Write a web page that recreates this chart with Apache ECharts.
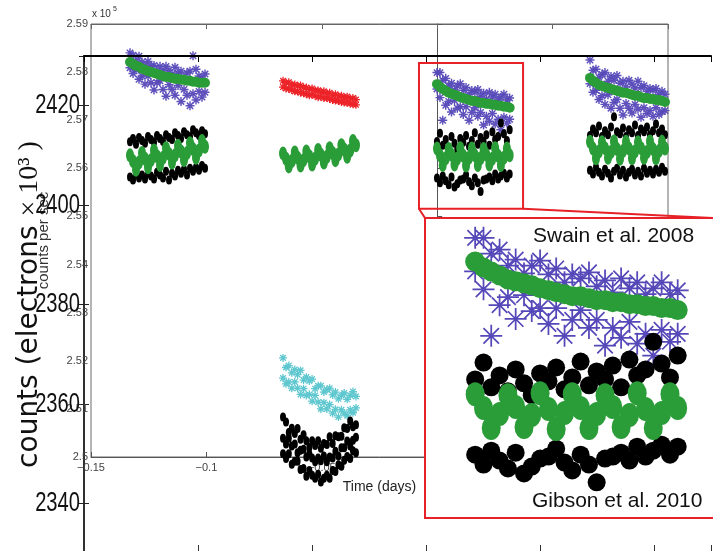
<!DOCTYPE html>
<html>
<head>
<meta charset="utf-8">
<script src="https://cdn.jsdelivr.net/npm/echarts@6/dist/echarts.min.js"></script>
<style>html,body{margin:0;padding:0;background:#fff;}#c{width:713px;height:551px;}</style>
</head>
<body>
<div id="c"></div>
<script>
// ---------- data (inner plot: time in days, counts per sec x 1e5) ----------
const innerXTicks = [-0.15, -0.1, -0.05, 0, 0.05, 0.1];
const innerYTicks = [2.5, 2.51, 2.52, 2.53, 2.54, 2.55, 2.56, 2.57, 2.58, 2.59];
const outerYTicks = [2340, 2360, 2380, 2400, 2420];

const T1 = [-0.1331,-0.1318,-0.1305,-0.1292,-0.1279,-0.1266,-0.1253,-0.1240,-0.1227,-0.1214,-0.1201,-0.1188,-0.1175,-0.1162,-0.1149,-0.1136,-0.1123,-0.1110,-0.1097,-0.1084,-0.1071,-0.1058,-0.1045,-0.1032,-0.1019,-0.1006];
const T2 = [-0.0668,-0.0655,-0.0643,-0.0630,-0.0617,-0.0605,-0.0592,-0.0579,-0.0567,-0.0554,-0.0542,-0.0529,-0.0516,-0.0504,-0.0491,-0.0478,-0.0466,-0.0453,-0.0441,-0.0428,-0.0415,-0.0403,-0.0390,-0.0377,-0.0365,-0.0352];
const T3 = [-0.0001,0.0012,0.0024,0.0037,0.0050,0.0062,0.0075,0.0087,0.0100,0.0113,0.0125,0.0138,0.0150,0.0163,0.0176,0.0188,0.0201,0.0213,0.0226,0.0239,0.0251,0.0264,0.0276,0.0289,0.0302,0.0314];
const T4 = [0.0662,0.0675,0.0688,0.0701,0.0714,0.0727,0.0740,0.0753,0.0766,0.0779,0.0792,0.0805,0.0818,0.0831,0.0844,0.0857,0.0870,0.0883,0.0896,0.0909,0.0922,0.0935,0.0948,0.0961,0.0974,0.0987];

// purple stars (Swain et al. 2008)
const S1a = [2.5840,2.5835,2.5823,2.5833,2.5821,2.5813,2.5822,2.5812,2.5814,2.5802,2.5812,2.5802,2.5812,2.5804,2.5796,2.5810,2.5798,2.5802,2.5790,2.5798,2.5802,2.5834,2.5806,2.5792,2.5786,2.5796];
const S1b = [2.5809,2.5797,2.5805,2.5785,2.5792,2.5775,2.5792,2.5778,2.5763,2.5778,2.5782,2.5764,2.5750,2.5774,2.5764,2.5752,2.5772,2.5739,2.5764,2.5752,2.5730,2.5755,2.5742,2.5760,2.5748,2.5758];
const S3a = [2.5799,2.5799,2.5783,2.5787,2.5771,2.5777,2.5763,2.5771,2.5776,2.5762,2.5768,2.5754,2.5762,2.5758,2.5764,2.5750,2.5756,2.5744,2.5758,2.5748,2.5754,2.5742,2.5748,2.5754,2.5742,2.5746];
const S3b = [2.5765,2.5747,2.5700,2.5731,2.5739,2.5717,2.5741,2.5725,2.5728,2.5712,2.5728,2.5700,2.5716,2.5726,2.5708,2.5716,2.5690,2.5708,2.5698,2.5714,2.5692,2.5702,2.5680,2.5706,2.5694,2.5702];
const S4a = [2.5825,2.5804,2.5806,2.5789,2.5795,2.5799,2.5781,2.5791,2.5783,2.5793,2.5777,2.5781,2.5769,2.5783,2.5775,2.5767,2.5781,2.5768,2.5772,2.5760,2.5766,2.5762,2.5766,2.5754,2.5760,2.5754];
const S4b = [2.5776,2.5758,2.5762,2.5743,2.5751,2.5733,2.5753,2.5725,2.5737,2.5743,2.5725,2.5711,2.5735,2.5725,2.5715,2.5733,2.5723,2.5706,2.5726,2.5714,2.5720,2.5708,2.5726,2.5712,2.5718,2.5720];
// green dots on the star data
const G1u = [2.5821,2.5817,2.5813,2.5811,2.5807,2.5805,2.5802,2.5800,2.5798,2.5796,2.5794,2.5792,2.5790,2.5790,2.5788,2.5786,2.5786,2.5784,2.5784,2.5782,2.5782,2.5780,2.5780,2.5778,2.5778,2.5778];
const G3u = [2.5775,2.5769,2.5765,2.5761,2.5757,2.5755,2.5753,2.5751,2.5748,2.5746,2.5744,2.5742,2.5740,2.5740,2.5738,2.5736,2.5736,2.5734,2.5734,2.5732,2.5732,2.5730,2.5730,2.5728,2.5728,2.5726];
const G4u = [2.5788,2.5782,2.5778,2.5773,2.5771,2.5769,2.5767,2.5765,2.5763,2.5761,2.5759,2.5757,2.5757,2.5755,2.5753,2.5751,2.5751,2.5748,2.5746,2.5746,2.5744,2.5744,2.5742,2.5742,2.5740,2.5738];
// red stars
const R2a = [2.5782,2.5778,2.5779,2.5774,2.5774,2.5771,2.5772,2.5768,2.5768,2.5764,2.5766,2.5762,2.5762,2.5759,2.5760,2.5756,2.5757,2.5752,2.5754,2.5750,2.5751,2.5747,2.5749,2.5745,2.5746,2.5743];
const R2b = [2.5769,2.5766,2.5765,2.5763,2.5760,2.5760,2.5757,2.5756,2.5754,2.5752,2.5753,2.5751,2.5748,2.5749,2.5746,2.5746,2.5744,2.5742,2.5741,2.5740,2.5738,2.5737,2.5736,2.5735,2.5733,2.5732];
// cyan stars
const C2a = [2.5206,2.5186,2.5190,2.5175,2.5182,2.5171,2.5180,2.5160,2.5166,2.5158,2.5162,2.5142,2.5148,2.5148,2.5135,2.5140,2.5143,2.5129,2.5135,2.5121,2.5128,2.5133,2.5120,2.5128,2.5136,2.5126];
const C2b = [2.5164,2.5152,2.5156,2.5143,2.5156,2.5143,2.5130,2.5142,2.5128,2.5130,2.5116,2.5128,2.5114,2.5100,2.5113,2.5100,2.5109,2.5091,2.5099,2.5083,2.5098,2.5091,2.5086,2.5098,2.5092,2.5102];
// black dots (Gibson et al. 2010)
const B1a = [2.5655,2.5662,2.5650,2.5664,2.5658,2.5652,2.5666,2.5660,2.5654,2.5668,2.5662,2.5656,2.5670,2.5664,2.5660,2.5674,2.5668,2.5662,2.5676,2.5670,2.5666,2.5680,2.5674,2.5668,2.5678,2.5672];
const B1b = [2.5582,2.5576,2.5588,2.5580,2.5586,2.5578,2.5590,2.5584,2.5578,2.5592,2.5586,2.5580,2.5594,2.5576,2.5590,2.5584,2.5596,2.5590,2.5598,2.5586,2.5600,2.5594,2.5602,2.5596,2.5606,2.5600];
const B2a = [2.5083,2.5073,2.5051,2.5060,2.5049,2.5059,2.5037,2.5046,2.5034,2.5020,2.5034,2.5024,2.5034,2.5018,2.5028,2.5026,2.5042,2.5028,2.5044,2.5042,2.5043,2.5061,2.5059,2.5075,2.5063,2.5067];
const B2b = [2.5039,2.5027,2.5039,2.5023,2.5027,2.5009,2.5014,2.5016,2.5000,2.5006,2.4998,2.4990,2.4998,2.4992,2.5002,2.4990,2.5000,2.4998,2.5012,2.5002,2.5019,2.5019,2.5033,2.5023,2.5035,2.5041];
const B2c = [2.5007,2.4997,2.5007,2.4985,2.4991,2.4991,2.4974,2.4976,2.4960,2.4972,2.4962,2.4956,2.4964,2.4948,2.4956,2.4962,2.4956,2.4972,2.4970,2.4984,2.4981,2.4993,2.5001,2.4997,2.5013,2.5009];
const B3a = [2.5656,2.5673,2.5648,2.5660,2.5644,2.5666,2.5652,2.5640,2.5662,2.5654,2.5668,2.5646,2.5658,2.5674,2.5650,2.5664,2.5656,2.5670,2.5648,2.5676,2.5660,2.5666,2.5694,2.5672,2.5658,2.5680];
const B3b = [2.5580,2.5570,2.5584,2.5574,2.5566,2.5582,2.5561,2.5568,2.5576,2.5578,2.5586,2.5572,2.5564,2.5580,2.5570,2.5552,2.5576,2.5578,2.5582,2.5574,2.5588,2.5578,2.5584,2.5590,2.5580,2.5588];
const B4a = [2.5668,2.5682,2.5674,2.5688,2.5666,2.5678,2.5670,2.5686,2.5707,2.5676,2.5672,2.5684,2.5666,2.5680,2.5674,2.5690,2.5668,2.5682,2.5676,2.5686,2.5670,2.5678,2.5692,2.5674,2.5682,2.5670];
const B4b = [2.5596,2.5588,2.5602,2.5592,2.5584,2.5598,2.5590,2.5580,2.5594,2.5600,2.5586,2.5596,2.5582,2.5592,2.5598,2.5586,2.5594,2.5584,2.5600,2.5590,2.5596,2.5588,2.5598,2.5592,2.5602,2.5594];
// green dots on the black data
const G1l = [2.5627,2.5615,2.5597,2.5612,2.5632,2.5620,2.5602,2.5617,2.5637,2.5625,2.5607,2.5622,2.5642,2.5630,2.5612,2.5627,2.5647,2.5635,2.5617,2.5632,2.5652,2.5640,2.5622,2.5637,2.5657,2.5645];
const G2l = [2.5631,2.5620,2.5604,2.5615,2.5633,2.5622,2.5606,2.5617,2.5635,2.5625,2.5608,2.5620,2.5638,2.5628,2.5612,2.5624,2.5642,2.5632,2.5617,2.5629,2.5648,2.5639,2.5624,2.5637,2.5657,2.5648];
const G3l = [2.5641,2.5627,2.5607,2.5621,2.5640,2.5628,2.5608,2.5620,2.5642,2.5626,2.5606,2.5622,2.5641,2.5627,2.5607,2.5621,2.5640,2.5628,2.5608,2.5620,2.5642,2.5626,2.5607,2.5622,2.5641,2.5627];
const G4l = [2.5655,2.5641,2.5621,2.5635,2.5654,2.5642,2.5622,2.5634,2.5656,2.5640,2.5620,2.5636,2.5655,2.5641,2.5621,2.5635,2.5654,2.5642,2.5622,2.5634,2.5656,2.5640,2.5621,2.5636,2.5655,2.5641];

// zoomed region shown in the inset
const zoomBoxT = [-0.0079, 0.0372];
const zoomBoxV = [2.5516, 2.5819];

// ---------- helpers ----------
const pts = (T, V) => T.map((t, i) => [t, V[i]]);
const cat = (...a) => [].concat(...a);

const STAR_THICK = 'path://M-100,-16L100,-16L100,16L-100,16Z M16,-100L16,100L-16,100L-16,-100Z M-59,-82L82,59L59,82L-82,-59Z M-82,59L59,-82L82,-59L-59,82Z';
const STAR_THIN = 'path://M-100,-8L100,-8L100,8L-100,8Z M8,-100L8,100L-8,100L-8,-100Z M-65,-76L76,65L65,76L-76,-65Z M-76,65L65,-76L76,-65L-65,76Z';

const PURPLE = '#5548b8', GREEN = '#2a9d38', RED = '#ec2328', CYAN = '#5ec7cf', BLACK = '#000', BOXRED = '#e62127';

const purpleData = cat(pts(T1,S1a), pts(T1,S1b), pts(T3,S3a), pts(T3,S3b), pts(T4,S4a), pts(T4,S4b));
const greenUpData = cat(pts(T1,G1u), pts(T3,G3u), pts(T4,G4u));
const redData = cat(pts(T2,R2a), pts(T2,R2b));
const cyanData = cat(pts(T2,C2a), pts(T2,C2b));
const blackData = cat(pts(T1,B1a), pts(T1,B1b), pts(T2,B2a), pts(T2,B2b), pts(T2,B2c), pts(T3,B3a), pts(T3,B3b), pts(T4,B4a), pts(T4,B4b));
const greenLowData = cat(pts(T1,G1l), pts(T2,G2l), pts(T3,G3l), pts(T4,G4l));

const fmtNum = v => String(Number(v.toFixed(2))).replace('-', '\u2212');

const chart = echarts.init(document.getElementById('c'), null, {renderer: 'canvas'});

const INNER_FONT = 'Liberation Sans, Arial, sans-serif';
const OY_MIN = 2330, OY_MAX = 2430;

const sc = (o) => Object.assign({type: 'scatter', silent: true, large: false}, o);

const option = {
  animation: false,
  backgroundColor: '#fff',
  grid: [
    {left: 91, top: 24, width: 577, height: 433, show: true, borderColor: '#6a6a6a', borderWidth: 1, backgroundColor: 'transparent', outerBoundsMode: 'none', containLabel: false},
    {left: 84, top: 56, width: 627, height: 497, outerBoundsMode: 'none', containLabel: false},
    {left: 425, top: 218, width: 290, height: 300, show: true, backgroundColor: '#fff', borderColor: BOXRED, borderWidth: 2, z: 10, outerBoundsMode: 'none', containLabel: false}
  ],
  xAxis: [
    {gridIndex: 0, type: 'value', position: 'bottom', min: innerXTicks[0], max: innerXTicks[innerXTicks.length-1], interval: 0.05,
     axisLine: {lineStyle: {color: '#555', width: 1}}, axisTick: {inside: true, length: 5, lineStyle: {color: '#555'}},
     axisLabel: {formatter: fmtNum, color: '#444', fontSize: 11, margin: 5, fontFamily: INNER_FONT},
     splitLine: {show: false}, nameMoveOverlap: false,
     name: 'Time (days)', nameLocation: 'middle', nameGap: 23, nameTextStyle: {fontSize: 14, color: '#222', fontFamily: INNER_FONT}},
    {gridIndex: 0, type: 'value', position: 'top', min: innerXTicks[0], max: innerXTicks[innerXTicks.length-1], interval: 0.05,
     axisLine: {lineStyle: {color: '#666', width: 1}}, axisTick: {inside: true, length: 5, lineStyle: {color: '#666'}},
     axisLabel: {show: false}, splitLine: {show: false}},
    {gridIndex: 1, type: 'value', position: 'top', min: 0, max: 5.5, interval: 1,
     axisLine: {lineStyle: {color: '#000', width: 2}}, axisTick: {inside: true, length: 6, lineStyle: {color: '#000'}},
     axisLabel: {show: false}, splitLine: {show: false}, z: 3},
    {gridIndex: 1, type: 'value', position: 'bottom', min: 0, max: 5.5, interval: 1,
     axisLine: {lineStyle: {color: '#000', width: 1.5}}, axisTick: {inside: true, length: 8, lineStyle: {color: '#333'}},
     axisLabel: {show: false}, splitLine: {show: false}},
    {gridIndex: 2, type: 'value', min: zoomBoxT[0], max: zoomBoxT[1], show: false}
  ],
  yAxis: [
    {gridIndex: 0, type: 'value', min: innerYTicks[0], max: innerYTicks[innerYTicks.length-1], interval: 0.01,
     axisLine: {show: true, lineStyle: {color: '#555', width: 1}}, axisTick: {show: true, inside: true, length: 5, lineStyle: {color: '#555'}},
     axisLabel: {formatter: fmtNum, color: '#444', fontSize: 11, margin: 3, fontFamily: INNER_FONT},
     splitLine: {show: false}, nameMoveOverlap: false,
     name: 'counts per sec', nameLocation: 'middle', nameGap: 40, nameTextStyle: {fontSize: 15, color: '#333', fontFamily: INNER_FONT}},
    {gridIndex: 1, type: 'value', min: OY_MIN, max: OY_MAX, splitNumber: 5,
     axisLine: {show: true, lineStyle: {color: '#222', width: 1.5}}, axisTick: {show: true, inside: true, length: 5, lineStyle: {color: '#222'}},
     axisLabel: {show: false},
     splitLine: {show: false}, nameMoveOverlap: false,
     name: 'counts (electrons {s|× 10³ )}', nameLocation: 'middle', nameGap: 40,
     nameTextStyle: {fontSize: 28, color: '#111', fontFamily: "'DejaVu Sans', sans-serif",
       rich: {s: {fontSize: 28, color: '#111', fontFamily: "'Liberation Serif', 'DejaVu Serif', serif"}}}},
    {gridIndex: 1, type: 'value', position: 'right', min: OY_MIN, max: OY_MAX, splitNumber: 5,
     axisLine: {show: true, lineStyle: {color: '#222', width: 1.5}}, axisTick: {show: true, inside: true, length: 5, lineStyle: {color: '#222'}},
     axisLabel: {show: false}, splitLine: {show: false}},
    {gridIndex: 2, type: 'value', min: zoomBoxV[0], max: zoomBoxV[1], show: false}
  ],
  series: [
    sc({xAxisIndex: 0, yAxisIndex: 0, data: purpleData, symbol: STAR_THICK, symbolSize: 9, itemStyle: {color: PURPLE, opacity: 0.95}, clip: false}),
    sc({xAxisIndex: 0, yAxisIndex: 0, data: greenUpData, symbol: 'circle', symbolSize: 10, itemStyle: {color: GREEN, opacity: 1}, clip: false,
     markArea: {silent: true, itemStyle: {color: 'rgba(0,0,0,0)', borderColor: BOXRED, borderWidth: 2, opacity: 1}, label: {show: false},
       data: [[{coord: [zoomBoxT[0], zoomBoxV[1]]}, {coord: [zoomBoxT[1], zoomBoxV[0]]}]]}}),
    sc({xAxisIndex: 0, yAxisIndex: 0, data: redData, symbol: STAR_THICK, symbolSize: 8, itemStyle: {color: RED, opacity: 1}, clip: false}),
    sc({xAxisIndex: 0, yAxisIndex: 0, data: cyanData, symbol: STAR_THICK, symbolSize: 8, itemStyle: {color: CYAN, opacity: 1}, clip: false}),
    sc({xAxisIndex: 0, yAxisIndex: 0, data: blackData, symbol: 'circle', symbolSize: [6, 9], itemStyle: {color: BLACK, opacity: 1}, clip: false}),
    sc({xAxisIndex: 0, yAxisIndex: 0, data: greenLowData, symbol: 'circle', symbolSize: [8, 14], itemStyle: {color: GREEN, opacity: 1}, clip: false}),
    // inset (zoom of the third visit)
    sc({xAxisIndex: 4, yAxisIndex: 3, data: cat(pts(T3,S3a), pts(T3,S3b)), symbol: STAR_THIN, symbolSize: 22, itemStyle: {color: PURPLE, opacity: 1}, z: 12}),
    sc({xAxisIndex: 4, yAxisIndex: 3, data: pts(T3,G3u), symbol: 'circle', symbolSize: 20, itemStyle: {color: GREEN, opacity: 1}, z: 12}),
    sc({xAxisIndex: 4, yAxisIndex: 3, data: cat(pts(T3,B3a), pts(T3,B3b)), symbol: 'circle', symbolSize: 18, itemStyle: {color: BLACK, opacity: 1}, z: 12}),
    sc({xAxisIndex: 4, yAxisIndex: 3, data: pts(T3,G3l), symbol: 'circle', symbolSize: [19, 24], itemStyle: {color: GREEN, opacity: 1}, z: 12})
  ]
};

chart.setOption(option);

const texts = [
  {type: 'text', id: 'e1', x: 92, y: 14, z: 20, style: {text: 'x 10', font: '10px ' + INNER_FONT, fill: '#333', textVerticalAlign: 'middle'}},
  {type: 'text', id: 'e2', x: 113, y: 9, z: 20, style: {text: '5', font: '7px ' + INNER_FONT, fill: '#333', textVerticalAlign: 'middle'}},
  {type: 'text', id: 'sw', x: 533, y: 236, z: 20, style: {text: 'Swain et al. 2008', font: '21px ' + INNER_FONT, fill: '#111', textVerticalAlign: 'middle'}},
  {type: 'text', id: 'gb', x: 532, y: 501, z: 20, style: {text: 'Gibson et al. 2010', font: '21px ' + INNER_FONT, fill: '#111', textVerticalAlign: 'middle'}}
];
// outer (condensed) tick labels, placed at the outer axis' own tick positions
outerYTicks.forEach((v, i) => {
  const p = chart.convertToPixel({gridIndex: 1}, [0, v]);
  texts.push({type: 'text', id: 'oy' + i, x: p[0] - 4, y: p[1], scaleX: 0.72, z: 5,
    style: {text: String(v), font: '28px Liberation Sans, Arial, sans-serif', fill: '#111', textAlign: 'right', textVerticalAlign: 'middle'}});
});
const pBL = chart.convertToPixel({gridIndex: 0}, [zoomBoxT[0], zoomBoxV[0]]);
const pBR = chart.convertToPixel({gridIndex: 0}, [zoomBoxT[1], zoomBoxV[0]]);
const qTL = chart.convertToPixel({gridIndex: 2}, [zoomBoxT[0], zoomBoxV[1]]);
const qTR = chart.convertToPixel({gridIndex: 2}, [zoomBoxT[1], zoomBoxV[1]]);
const lines = [
  {type: 'line', id: 'l1', z: 15, shape: {x1: pBL[0], y1: pBL[1], x2: qTL[0], y2: qTL[1]}, style: {stroke: BOXRED, lineWidth: 2}},
  {type: 'line', id: 'l2', z: 15, shape: {x1: pBR[0], y1: pBR[1], x2: qTR[0], y2: qTR[1]}, style: {stroke: BOXRED, lineWidth: 2}}
];
chart.setOption({graphic: {elements: texts.concat(lines)}});
</script>
</body>
</html>
